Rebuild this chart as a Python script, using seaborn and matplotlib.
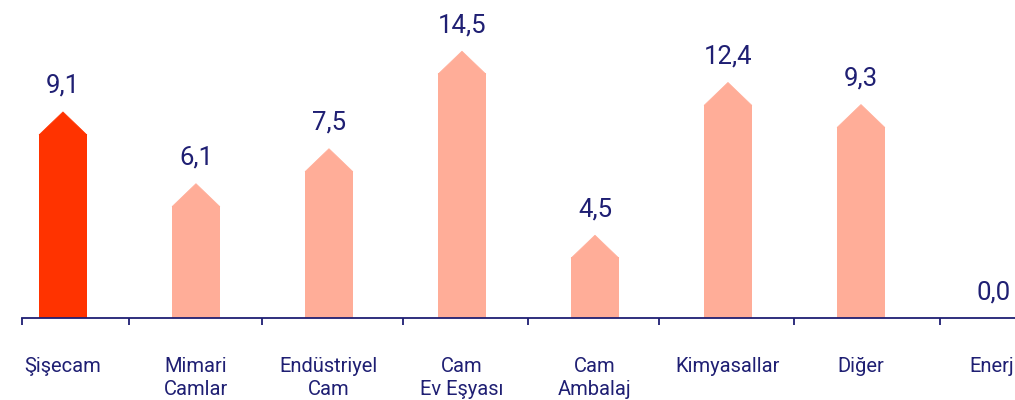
import matplotlib
matplotlib.use("Agg")
import matplotlib.pyplot as plt
from matplotlib.patches import Polygon
import seaborn as sns

# data
categories = ["Şişecam", "Mimari\nCamlar", "Endüstriyel\nCam", "Cam\nEv Eşyası",
              "Cam\nAmbalaj", "Kimyasallar", "Diğer", "Enerji"]
values = [9.1, 6.1, 7.5, 14.5, 4.5, 12.4, 9.3, 0.0]
# drawn bar heights (tip of the arrow) as they appear in the picture
bar_heights = [11.2, 7.3, 9.2, 14.5, 4.5, 12.8, 11.6, 0.0]

NAVY = "#1f1f73"
HIGHLIGHT = "#ff3300"
LIGHT = "#ffad98"
TIP = 1.2  # arrow head height in data units

sns.set_theme(style="white")
plt.rcParams["font.family"] = ["Roboto", "DejaVu Sans"]

fig = plt.figure(figsize=(10.15, 4.0), dpi=100)
ax = fig.add_axes([22 / 1015, 82 / 400, 993 / 1015, 318 / 400])

shoulders = [max(h - TIP, 0) for h in bar_heights]
colors = [HIGHLIGHT] + [LIGHT] * (len(categories) - 1)
sns.barplot(x=categories, y=shoulders, hue=categories, palette=colors,
            legend=False, width=0.36, saturation=1, linewidth=0, ax=ax)

# arrow-head caps on top of each bar
for patch, h, c in zip(ax.patches, bar_heights, colors):
    if h <= 0:
        continue
    x0 = patch.get_x()
    w = patch.get_width()
    top = patch.get_height()
    ax.add_patch(Polygon([(x0, top - 0.05), (x0 + w / 2, h), (x0 + w, top - 0.05)],
                         closed=True, facecolor=c, edgecolor=c, linewidth=0.5))

for i, (v, h) in enumerate(zip(values, bar_heights)):
    ax.annotate(f"{v:.1f}".replace(".", ","), (i, h), xytext=(0, 10),
                textcoords="offset points", ha="center", va="bottom",
                fontsize=18.5, color=NAVY)

ax.set_xlim(-0.308, 7.158)
ax.set_ylim(0, 17.28)
ax.set_yticks([])
ax.set_ylabel("")
for s in ["top", "right", "left"]:
    ax.spines[s].set_visible(False)
ax.spines["bottom"].set_color(NAVY)
ax.spines["bottom"].set_linewidth(1.3)

ax.set_xticks(range(len(categories)))
ax.set_xticklabels(categories, fontsize=14.5, color=NAVY, linespacing=1.25)
ax.tick_params(axis="x", which="major", length=0, pad=28)
ax.set_xticks([-0.308, 0.5, 1.5, 2.556, 3.496, 4.481, 5.496, 6.594], minor=True)
ax.tick_params(axis="x", which="minor", length=5, width=1.3, color=NAVY,
               direction="out", bottom=True)

fig.savefig("out.png", dpi=100)
